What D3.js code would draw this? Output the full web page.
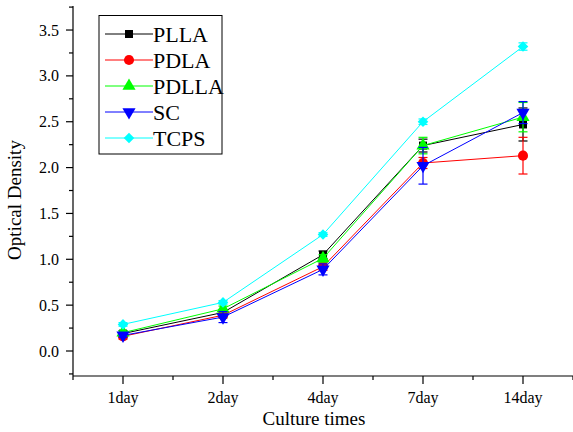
<!DOCTYPE html>
<html><head><meta charset="utf-8">
<script src="https://cdn.jsdelivr.net/npm/d3@7"></script>
<style>body{margin:0;background:#fff}svg{display:block}</style>
</head><body>
<script>
const categories = ["1day","2day","4day","7day","14day"];
const seriesNames = ["PLLA","PDLA","PDLLA","SC","TCPS"];
const colors = ["#000000","#ff0000","#00ff00","#0000ff","#00ffff"];
const symbols = ["square","circle","triangle","triangleDown","diamond"];
const PLLA = [0.19,0.42,1.05,2.24,2.47];
const PLLA_err = [0.03,0.03,0.04,0.07,0.18];
const PDLA = [0.16,0.39,0.92,2.05,2.13];
const PDLA_err = [0.03,0.03,0.04,0.06,0.20];
const PDLLA = [0.20,0.46,1.01,2.24,2.55];
const PDLLA_err = [0.02,0.03,0.04,0.09,0.16];
const SC = [0.17,0.37,0.89,2.02,2.60];
const SC_err = [0.02,0.06,0.06,0.20,0.12];
const TCPS = [0.29,0.53,1.27,2.50,3.32];
const TCPS_err = [0.02,0.02,0.02,0.03,0.04];
const yTicks = [0,0.5,1.0,1.5,2.0,2.5,3.0,3.5];
const values = [PLLA,PDLA,PDLLA,SC,TCPS];
const errors = [PLLA_err,PDLA_err,PDLLA_err,SC_err,TCPS_err];

const W=573,H=432;
const FONT="'Liberation Serif', 'Times New Roman', Times, serif";
const svg=d3.select("body").append("svg").attr("width",W).attr("height",H).attr("font-family",FONT);
const x=d3.scaleLinear().domain([0.5,5.5]).range([73,573]);
const y=d3.scaleLinear().domain([-0.2726,3.762]).range([376,6]);

function txt(){ return svg.append("text").attr("font-family",FONT).attr("fill","#000"); }

// axes
const ax=svg.append("g").attr("stroke","#000").attr("stroke-width",1.2);
ax.append("line").attr("x1",x(0.5)).attr("x2",x(5.5)).attr("y1",y.range()[0]).attr("y2",y.range()[0]);
ax.append("line").attr("x1",73).attr("x2",73).attr("y1",y.range()[0]).attr("y2",y.range()[1]);
categories.forEach((c,i)=>{
  ax.append("line").attr("x1",x(i+1)).attr("x2",x(i+1)).attr("y1",376).attr("y2",384);
  txt().attr("x",x(i+1)).attr("y",403).attr("text-anchor","middle").attr("font-size",16).text(c);
});
for(let k=0.5;k<=5.5;k+=1){
  ax.append("line").attr("x1",x(k)).attr("x2",x(k)).attr("y1",376).attr("y2",380);
}
yTicks.forEach(t=>{
  ax.append("line").attr("x1",73).attr("x2",66).attr("y1",y(t)).attr("y2",y(t));
  txt().attr("x",59).attr("y",y(t)+5.5).attr("text-anchor","end").attr("font-size",16).text(d3.format(".1f")(t));
});
for(let t=-0.25;t<=3.75;t+=0.5){
  ax.append("line").attr("x1",73).attr("x2",69).attr("y1",y(t)).attr("y2",y(t));
}
txt().attr("x",314).attr("y",425).attr("text-anchor","middle").attr("font-size",19).text("Culture times");
txt().attr("transform","translate(21,200) rotate(-90)").attr("text-anchor","middle").attr("font-size",19).text("Optical Density");

function drawMarker(g,name,cx,cy,col){
  let gen, tr=`translate(${cx},${cy})`;
  if(name==="square") gen=d3.symbol().type(d3.symbolSquare).size(64);
  else if(name==="circle") gen=d3.symbol().type(d3.symbolCircle).size(80);
  else if(name==="triangle") gen=d3.symbol().type(d3.symbolTriangle).size(75);
  else if(name==="triangleDown"){ gen=d3.symbol().type(d3.symbolTriangle).size(75); tr+=" rotate(180)"; }
  else { gen=d3.symbol().type(d3.symbolSquare).size(56); tr+=" rotate(45)"; }
  g.append("path").attr("d",gen()).attr("fill",col).attr("transform",tr);
}

const line=d3.line().x((d,i)=>x(i+1)).y(d=>y(d));
values.forEach((vals,s)=>{
  const g=svg.append("g");
  g.append("path").attr("d",line(vals)).attr("fill","none").attr("stroke",colors[s]).attr("stroke-width",1);
  vals.forEach((v,i)=>{
    const e=errors[s][i], cx=x(i+1);
    g.append("line").attr("x1",cx).attr("x2",cx).attr("y1",y(v-e)).attr("y2",y(v+e)).attr("stroke",colors[s]).attr("stroke-width",1.2);
    [v-e,v+e].forEach(b=>g.append("line").attr("x1",cx-4.5).attr("x2",cx+4.5).attr("y1",y(b)).attr("y2",y(b)).attr("stroke",colors[s]).attr("stroke-width",1.2));
    drawMarker(g,symbols[s],cx,y(v),colors[s]);
  });
});

// legend
const lg=svg.append("g");
lg.append("rect").attr("x",99).attr("y",15.5).attr("width",123).attr("height",138.5).attr("fill","#fff").attr("stroke","#000").attr("stroke-width",1);
seriesNames.forEach((n,s)=>{
  const cy=34+s*26;
  lg.append("line").attr("x1",105).attr("x2",153).attr("y1",cy).attr("y2",cy).attr("stroke",colors[s]).attr("stroke-width",1);
  drawMarker(lg,symbols[s],129,cy,colors[s]);
  lg.append("text").attr("font-family",FONT).attr("fill","#000").attr("x",153).attr("y",cy+7.5).attr("font-size",22).text(n);
});
</script>
</body></html>
